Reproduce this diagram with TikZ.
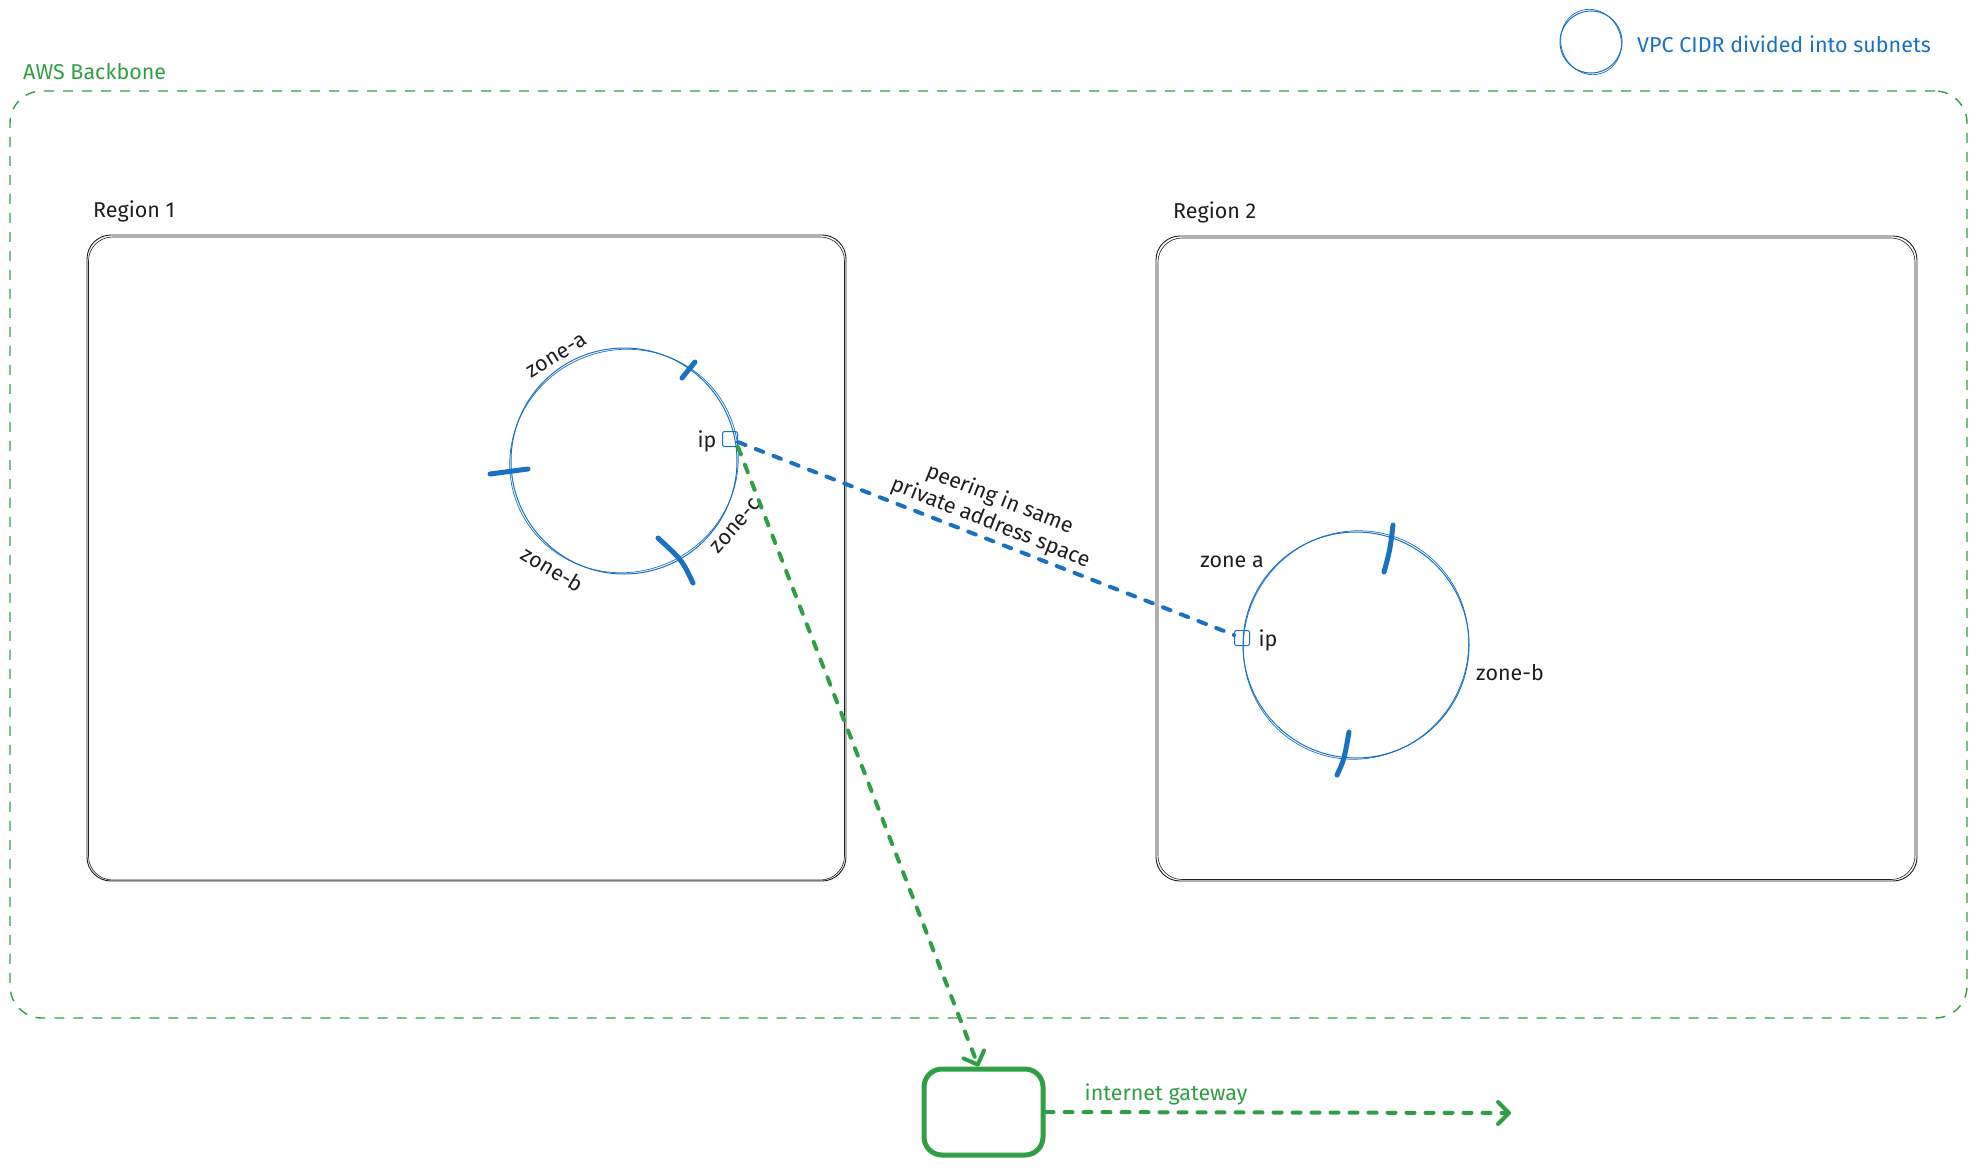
\documentclass[tikz,border=0pt]{standalone}
\usepackage{fontspec}
\setmainfont{Fira Sans}
\usetikzlibrary{arrows.meta}
\definecolor{exblue}{HTML}{1971C2}
\definecolor{exgreen}{HTML}{2F9E44}
\definecolor{exink}{HTML}{1E1E1E}

\begin{document}
\begin{tikzpicture}[x=1pt,y=-1pt,
  lbl/.style={font=\fontsize{21.5}{25}\selectfont, inner sep=0pt, text=exink},
  regionbox/.style={draw=exink, line width=0.9pt, rounded corners=24pt, inner sep=0pt},
  sketchline/.style={draw=exink, line width=0.6pt, rounded corners=24pt},
  vpc/.style={draw=exblue, line width=1pt, circle, inner sep=0pt},
  vpcline/.style={draw=exblue, line width=0.7pt},
  ipbox/.style={draw=exblue, line width=1pt, rounded corners=2pt, minimum size=15pt, inner sep=0pt},
  tick/.style={draw=exblue, line width=5pt, line cap=round},
  peerdash/.style={draw=exblue, line width=4pt, line cap=round, dash pattern=on 8pt off 11pt},
  netdash/.style={draw=exgreen, line width=4pt, line cap=round, dash pattern=on 8pt off 11pt},
  barb/.style={-{Straight Barb[length=11pt, width=22pt, line width=4pt, round]}},
]
\useasboundingbox (0,0) rectangle (1977,1168);

% AWS backbone boundary
\node[draw=exgreen, line width=1.4pt, dash pattern=on 10pt off 9pt, rounded corners=32pt,
      minimum width=1957pt, minimum height=927pt, inner sep=0pt] (backbone) at (988.5,554.5) {};
\node[lbl, text=exgreen, anchor=west] (backbonelbl) at (23,72) {AWS Backbone};

% Regions
\node[regionbox, minimum width=759pt, minimum height=646pt] (r1) at (466.5,558) {};
\draw[sketchline] (88.5,237) rectangle (844.5,880);
\node[lbl, anchor=west] (r1lbl) at (93,211) {Region 1};

\node[regionbox, minimum width=761pt, minimum height=645pt] (r2) at (1536.5,558.5) {};
\draw[sketchline] (1158,238) rectangle (1915,879.5);
\node[lbl, anchor=west] (r2lbl) at (1173,212) {Region 2};

% VPC in region 1
\node[vpc, minimum size=226pt] (c1) at (624,461) {};
\draw[vpcline] (c1.center) ellipse [x radius=115, y radius=111, rotate=25];
\draw[tick] (682,378) -- (695,362);
\draw[tick] (490,474) -- (528,469);
\draw[tick] (658,538) .. controls (682,560) .. (693,583);
\node[lbl, rotate=32] (za1) at (557,356) {zone-a};
\node[lbl, rotate=-31] (zb1) at (553,569) {zone-b};
\node[lbl, rotate=49] (zc1) at (736,526) {zone-c};
\node[ipbox] (ip1) at (730,439) {};
\node[lbl] (ip1lbl) at (707,441) {ip};

% VPC in region 2
\node[vpc, minimum size=226pt] (c2) at (1356,645) {};
\draw[vpcline] (c2.center) ellipse [x radius=112, y radius=115, rotate=-30];
\draw[tick] (1393,525) .. controls (1390,550) .. (1384,572);
\draw[tick] (1349,732) .. controls (1344,760) .. (1337,775);
\node[lbl] (za2) at (1232,562) {zone a};
\node[lbl] (zb2) at (1510,673) {zone-b};
\node[ipbox] (ip2) at (1242,638) {};
\node[lbl] (ip2lbl) at (1268,640) {ip};

% Peering connection
\draw[peerdash] (ip1) -- (ip2);
\node[lbl, rotate=-21.6, align=center] (peerlbl) at (995,511)
  {peering in same\\private address space};

% Internet gateway
\node[draw=exgreen, line width=5pt, rounded corners=18pt, minimum width=119pt,
      minimum height=86pt, inner sep=0pt] (gw) at (983.5,1112) {};
\draw[netdash, barb] (ip1.south east) -- ([xshift=-5pt]gw.north);
\coordinate (out) at (1511,1113);
\draw[netdash, barb] (gw.east) -- (out);
\node[lbl, text=exgreen] (gwlbl) at (1166,1094) {internet gateway};

% Legend
\node[vpc, minimum size=62pt] (legend) at (1591,42) {};
\draw[vpcline] (legend.center) ellipse [x radius=30, y radius=33, rotate=20];
\node[lbl, text=exblue, anchor=west] (legendlbl) at (1637,44) {VPC CIDR divided into subnets};
\end{tikzpicture}
\end{document}
